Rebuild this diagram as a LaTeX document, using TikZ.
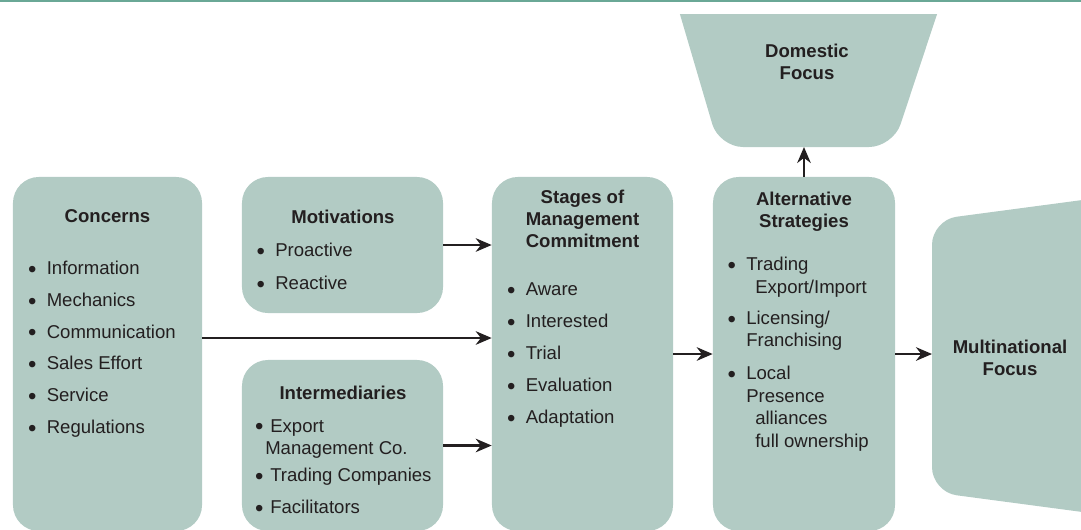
\documentclass[tikz,border=0pt]{standalone}
\usepackage{fontspec}
\setmainfont{Liberation Sans}
\usetikzlibrary{arrows.meta}
\definecolor{boxfill}{HTML}{B2CBC4}
\definecolor{rulecol}{HTML}{6AA896}
\definecolor{ink}{HTML}{231F20}
\newcommand\itm[2][0.26cm]{\llap{\raisebox{-0.07cm}{\fontsize{17}{17}\selectfont\textbullet}\hspace{#1}}#2}

\begin{document}
\begin{tikzpicture}[x=0.025cm, y=-0.025cm,
    font=\fontsize{13.2}{15.6}\selectfont, text=ink,
    box/.style={fill=boxfill, rounded corners=0.65cm, inner sep=0},
    title/.style={font=\fontsize{13.2}{15.6}\selectfont\bfseries, align=center, inner sep=0},
    item/.style={anchor=base west, inner sep=0},
    arr/.style={draw=ink, line width=0.055cm, -{Stealth[length=0.4cm, width=0.34cm]}}]
  \useasboundingbox (0,0) rectangle (1081,529);
  \clip (0,0) rectangle (1081,529);
  \draw[rulecol, line width=0.05cm] (0,1) -- (1081,1);

  % boxes
  \node[box, minimum width=4.725cm, minimum height=8.85cm] (conc) at (107.5,354) {};
  \node[box, minimum width=5.025cm, minimum height=3.4cm] (mot) at (342.5,245) {};
  \node[box, minimum width=5.025cm, minimum height=4.275cm] (inter) at (342.5,445.5) {};
  \node[box, minimum width=4.525cm, minimum height=8.85cm] (stage) at (582.5,354) {};
  \node[box, minimum width=4.55cm, minimum height=8.85cm] (alt) at (804,354) {};

  % domestic and multinational focus
  \begin{scope}
    \clip (0,14) rectangle (1081,529);
    \fill[boxfill, rounded corners=0.6cm] (664,-40) -- (955,-40) -- (893,147) -- (719,147) -- cycle;
  \end{scope}
  \fill[boxfill, rounded corners=0.62cm] (1120,195) -- (932,220) -- (932,492) -- (1120,517) -- cycle;
  \coordinate (dombot) at (804,147);
  \coordinate (mnwest) at (932,354);
  \node[title] (dom) at (807,62) {Domestic\\Focus};
  \node[title] (mn) at (1010,358) {Multinational\\Focus};

  % titles
  \node[title] (conc-t) at (107.5,216) {Concerns};
  \node[title] (mot-t) at (343,217) {Motivations};
  \node[title] (inter-t) at (343,393) {Intermediaries};
  \node[title] (stage-t) at (582.5,219) {Stages of\\Management\\Commitment};
  \node[title] (alt-t) at (804,212) {Alternative\\Strategies};

  % lists
  \foreach \t [count=\i] in {Information,Mechanics,Communication,Sales Effort,Service,Regulations}
    \node[item] (conc-\i) at (46.5,274.5+31.8*\i-31.8) {\itm{\t}};
  \foreach \t [count=\i] in {Proactive,Reactive}
    \node[item] (mot-\i) at (275,256.5+33*\i-33) {\itm{\t}};
  \node[item] (inter-1) at (270,432) {\itm[0.17cm]{Export}};
  \node[item] (inter-1b) at (265,454.5) {Management Co.};
  \node[item] (inter-2) at (270,481.5) {\itm[0.17cm]{Trading Companies}};
  \node[item] (inter-3) at (270,513.5) {\itm[0.17cm]{Facilitators}};
  \foreach \t [count=\i] in {Aware,Interested,Trial,Evaluation,Adaptation}
    \node[item] (stage-\i) at (525.5,295.5+32*\i-32) {\itm{\t}};
  \node[item] (alt-1) at (746,270.5) {\itm{Trading}};
  \node[item] (alt-1b) at (755,293.5) {Export/Import};
  \node[item] (alt-2) at (746,324.5) {\itm{Licensing/}};
  \node[item] (alt-2b) at (746,346.5) {Franchising};
  \node[item] (alt-3) at (746,379.5) {\itm{Local}};
  \node[item] (alt-3b) at (746,402.5) {Presence};
  \node[item] (alt-3c) at (755,424.5) {alliances};
  \node[item] (alt-3d) at (755,447.5) {full ownership};

  % connectors
  \coordinate (cc) at ([yshift=0.4cm]conc.east);
  \draw[arr] (mot.east) -- (mot.east -| stage.west);
  \draw[arr] (cc) -- (cc -| stage.west);
  \draw[arr] (inter.east) -- (inter.east -| stage.west);
  \draw[arr] (stage.east) -- (alt.west);
  \draw[arr] (alt.east) -- (mnwest);
  \draw[arr] (alt.north) -- (dombot);
\end{tikzpicture}
\end{document}
